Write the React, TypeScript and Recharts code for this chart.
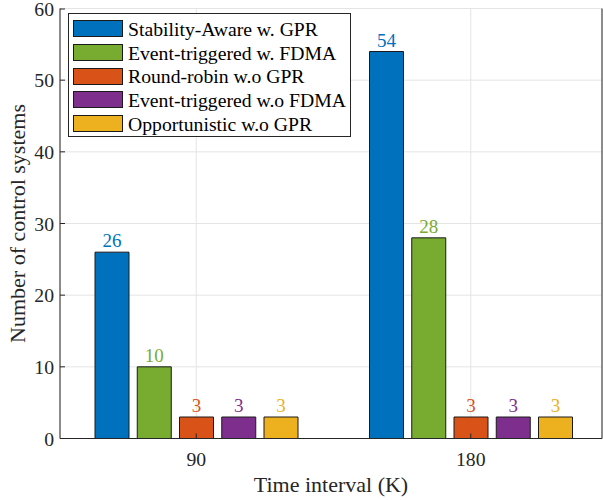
import React from "react";
import { Bar, BarChart, CartesianGrid, LabelList, Legend, XAxis, YAxis } from "recharts";

const timeIntervals = ["90", "180"];
const stabilityAwareGpr = [26, 54];
const eventTriggeredFdma = [10, 28];
const roundRobinNoGpr = [3, 3];
const eventTriggeredNoFdma = [3, 3];
const opportunisticNoGpr = [3, 3];
const yTicks = [0, 10, 20, 30, 40, 50, 60];

const seriesNames = [
  "Stability-Aware w. GPR",
  "Event-triggered w. FDMA",
  "Round-robin w.o GPR",
  "Event-triggered w.o FDMA",
  "Opportunistic w.o GPR"
];
const seriesValues = [
  stabilityAwareGpr,
  eventTriggeredFdma,
  roundRobinNoGpr,
  eventTriggeredNoFdma,
  opportunisticNoGpr
];
const seriesColors = ["#0072BD", "#77AC30", "#D95319", "#7E2F8E", "#EDB120"];

const FONT = "Liberation Serif, Tinos, Times New Roman, DejaVu Serif, Noto Serif, serif";
const AXIS = "#262626";
const TICK_LEN = 5;

const chartData = timeIntervals.map((k, i) => {
  const row: Record<string, string | number> = { k };
  seriesValues.forEach((vals, s) => {
    row[`s${s}`] = vals[i];
  });
  return row;
});

type TickProps = { x: number; y: number; payload: { value: string | number } };

// MATLAB style: ticks point into the plot box
const BottomTick = (p: TickProps) => (
  <g>
    <line x1={p.x} x2={p.x} y1={p.y} y2={p.y - TICK_LEN} stroke={AXIS} />
    <text x={p.x} y={p.y + 27.5} textAnchor="middle" fontSize={19.7} fontFamily={FONT} fill={AXIS}>
      {p.payload.value}
    </text>
  </g>
);

const TopTick = (p: TickProps) => (
  <line x1={p.x} x2={p.x} y1={p.y} y2={p.y + TICK_LEN} stroke={AXIS} />
);

const LeftTick = (p: TickProps) => (
  <g>
    <line x1={p.x} x2={p.x + TICK_LEN} y1={p.y} y2={p.y} stroke={AXIS} />
    <text x={p.x - 6} y={p.y + 7} textAnchor="end" fontSize={19.7} fontFamily={FONT} fill={AXIS}>
      {p.payload.value}
    </text>
  </g>
);

const RightTick = (p: TickProps) => (
  <line x1={p.x} x2={p.x - TICK_LEN} y1={p.y} y2={p.y} stroke={AXIS} />
);

const YLabel = (props: { viewBox?: { x: number; y: number; width: number; height: number } }) => {
  const vb = props.viewBox!;
  const cx = vb.x + 25;
  const cy = vb.y + vb.height / 2;
  return (
    <text
      x={cx}
      y={cy}
      transform={`rotate(-90, ${cx}, ${cy})`}
      textAnchor="middle"
      fontSize={22}
      fontFamily={FONT}
      fill={AXIS}
    >
      Number of control systems
    </text>
  );
};

type LegendEntry = { value: string; color: string };

const LegendBox = (props: { payload?: ReadonlyArray<LegendEntry> }) => {
  // keep the series order, not the alphabetical one
  const entries = [...(props.payload ?? [])].sort(
    (a, b) => seriesNames.indexOf(a.value) - seriesNames.indexOf(b.value)
  );
  return (
    <div
      style={{
        width: 281,
        border: `1px solid ${AXIS}`,
        background: "#fff",
        padding: "3px 0 1px 0",
        fontFamily: FONT,
        fontSize: 19.7,
        color: "#000"
      }}
    >
      {entries.map((entry) => (
        <div key={entry.value} style={{ height: 23.7, display: "flex", alignItems: "center" }}>
          <span
            style={{
              display: "inline-block",
              width: 48,
              height: 15,
              marginLeft: 4,
              marginRight: 5,
              background: entry.color,
              border: "1px solid #1a1a1a"
            }}
          />
          <span style={{ lineHeight: "20px", whiteSpace: "nowrap" }}>{entry.value}</span>
        </div>
      ))}
    </div>
  );
};

export default function App(): React.JSX.Element {
  return (
    <div style={{ position: "absolute", left: 0, top: 0, width: 603, height: 500, background: "#fff" }}>
      <BarChart
        width={603}
        height={500}
        data={chartData}
        margin={{ top: 8.5, right: 0, bottom: 0, left: 0 }}
        barSize={34}
        barGap={8.25}
      >
        <CartesianGrid stroke="#e4e4e4" />
        <XAxis
          dataKey="k"
          height={61.5}
          padding={{ left: -1, right: -6 }}
          axisLine={{ stroke: AXIS }}
          tickLine={false}
          tickSize={0}
          tickMargin={0}
          tick={BottomTick}
          label={{
            value: "Time interval (K)",
            position: "insideBottom",
            offset: 8,
            fontSize: 22,
            fontFamily: FONT,
            fill: AXIS
          }}
        />
        <XAxis
          xAxisId="top"
          dataKey="k"
          orientation="top"
          height={0}
          padding={{ left: -1, right: -6 }}
          axisLine={{ stroke: AXIS }}
          tickLine={false}
          tickSize={0}
          tickMargin={0}
          tick={TopTick}
        />
        <YAxis
          width={60}
          domain={[0, 60]}
          ticks={yTicks}
          axisLine={{ stroke: AXIS }}
          tickLine={false}
          tickSize={0}
          tickMargin={0}
          tick={LeftTick}
          label={<YLabel />}
        />
        <YAxis
          yAxisId="right"
          orientation="right"
          width={1}
          domain={[0, 60]}
          ticks={yTicks}
          axisLine={{ stroke: AXIS }}
          tickLine={false}
          tickSize={0}
          tickMargin={0}
          tick={RightTick}
        />
        <Legend
          layout="vertical"
          align="center"
          verticalAlign="middle"
          content={<LegendBox />}
          wrapperStyle={{ position: "absolute", left: 68, top: 13, width: "auto", height: "auto" }}
        />
        {seriesNames.map((name, s) => (
          <Bar
            key={name}
            dataKey={`s${s}`}
            name={name}
            fill={seriesColors[s]}
            stroke="#1a1a1a"
            strokeWidth={1}
            isAnimationActive={false}
          >
            <LabelList
              dataKey={`s${s}`}
              position="top"
              offset={5}
              fill={seriesColors[s]}
              fontSize={19}
              fontFamily={FONT}
            />
          </Bar>
        ))}
      </BarChart>
    </div>
  );
}
